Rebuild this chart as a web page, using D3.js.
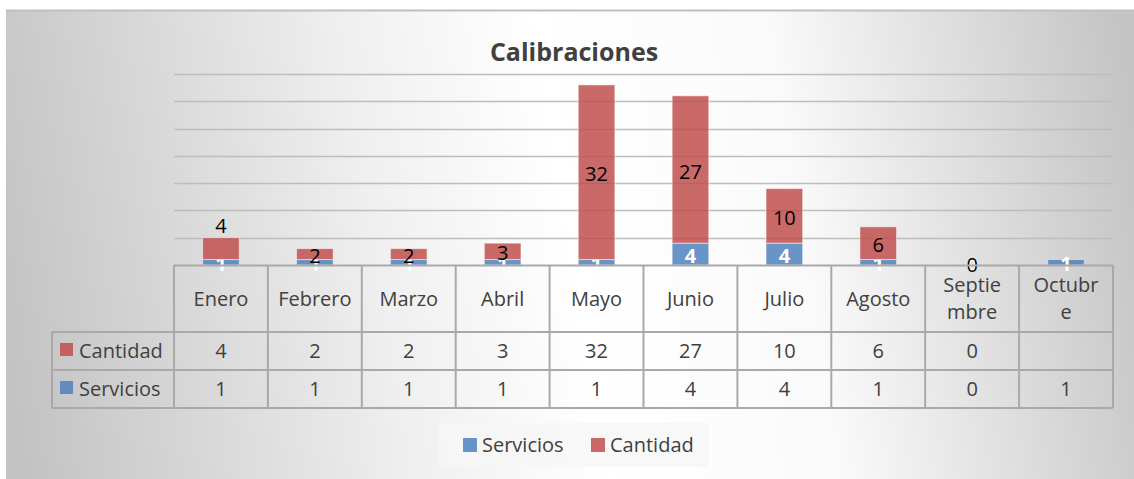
<!DOCTYPE html>
<html>
  <head>
    <meta charset="utf-8">
    <title>Calibraciones</title>
    <script type="text/javascript" src="https://cdn.jsdelivr.net/npm/d3@7"></script>
    <style type="text/css">
      body { margin: 0; background: #ffffff; }
      text { font-family: 'Open Sans', 'Noto Sans', sans-serif; }
    </style>
  </head>
  <body>
    <script type="text/javascript">
      // chart data
      var months = ['Enero', 'Febrero', 'Marzo', 'Abril', 'Mayo', 'Junio', 'Julio', 'Agosto', 'Septiembre', 'Octubre'];
      var monthLabels = [['Enero'], ['Febrero'], ['Marzo'], ['Abril'], ['Mayo'], ['Junio'], ['Julio'], ['Agosto'], ['Septie', 'mbre'], ['Octubr', 'e']];
      var servicios = [1, 1, 1, 1, 1, 4, 4, 1, 0, 1];
      var cantidad = [4, 2, 2, 3, 32, 27, 10, 6, 0, null];
      var seriesNames = ['Servicios', 'Cantidad'];
      var seriesColors = ['#4f81bd', '#c0504d'];
      var yMax = 35;

      var w = 1134;
      var h = 479;
      var plotLeft = 174, plotRight = 1113, plotBase = 265, plotTop = 74;
      var rowTop = 332, rowMid = 370, rowBottom = 408, labelLeft = 52;
      var textColor = '#404040';
      var lineColor = '#a9a9a9';

      var rows = months.map(function(m, i) {
        return {month: m, Servicios: servicios[i], Cantidad: cantidad[i] == null ? 0 : cantidad[i], raw: [servicios[i], cantidad[i]]};
      });

      var svg = d3.select('body')
                  .append('svg')
                  .attr('width', w)
                  .attr('height', h);

      // background gradient
      var grad = svg.append('defs').append('linearGradient')
        .attr('id', 'bg')
        .attr('gradientUnits', 'userSpaceOnUse')
        .attr('x1', 6).attr('y1', 330)
        .attr('x2', 1134).attr('y2', 150);
      [[0, '#c3c3c3'], [0.33, '#efefef'], [0.5, '#ffffff'], [0.7, '#fafafa'], [1, '#c5c5c5']].forEach(function(s) {
        grad.append('stop').attr('offset', s[0]).attr('stop-color', s[1]);
      });

      svg.append('rect')
        .attr('x', 6).attr('y', 10)
        .attr('width', w - 6).attr('height', h - 10)
        .attr('fill', 'url(#bg)');
      svg.append('line')
        .attr('x1', 6).attr('x2', w).attr('y1', 10.5).attr('y2', 10.5)
        .attr('stroke', '#bfbfbf').attr('stroke-width', 2);

      var x = d3.scaleBand().domain(months).range([plotLeft, plotRight]).padding(0);
      var y = d3.scaleLinear().domain([0, yMax]).range([plotBase, plotTop]);
      var barW = x.bandwidth() * 0.39;

      // gridlines
      svg.append('g')
        .selectAll('line')
        .data(y.ticks(7).filter(function(t) { return t > 0; }))
        .enter()
        .append('line')
        .attr('x1', plotLeft).attr('x2', plotRight)
        .attr('y1', function(d) { return Math.round(y(d)) + 0.5; })
        .attr('y2', function(d) { return Math.round(y(d)) + 0.5; })
        .attr('stroke', '#bdbdbd')
        .attr('stroke-width', 1.5);

      // title
      svg.append('text')
        .text('Calibraciones')
        .attr('x', 574).attr('y', 61)
        .attr('text-anchor', 'middle')
        .attr('font-size', '25px')
        .attr('font-weight', 'bold')
        .attr('fill', textColor);

      // stacked bars
      var stacked = d3.stack().keys(seriesNames)(rows);

      var layers = svg.append('g')
        .selectAll('g')
        .data(stacked)
        .enter()
        .append('g')
        .attr('fill', function(d, i) { return seriesColors[i]; });

      layers.selectAll('rect')
        .data(function(d) { return d; })
        .enter()
        .append('rect')
        .attr('x', function(d) { return x(d.data.month) + (x.bandwidth() - barW) / 2; })
        .attr('y', function(d) { return y(d[1]); })
        .attr('width', barW)
        .attr('height', function(d) { return y(d[0]) - y(d[1]); })
        .attr('fill-opacity', 0.85)
        .attr('stroke', '#ffffff')
        .attr('stroke-opacity', 0.5)
        .attr('stroke-width', 1);

      // data labels
      layers.each(function(layer, li) {
        d3.select(this).selectAll('text')
          .data(layer.filter(function(d) { return d.data.raw[li] != null; }))
          .enter()
          .append('text')
          .text(function(d) { return d.data.raw[li]; })
          .attr('x', function(d) { return x(d.data.month) + x.bandwidth() / 2; })
          .attr('y', function(d) {
            if (li == 1 && d.data.month == 'Enero') return y(d[1]) - 12;
            if (d[1] == d[0]) return y(d[0]);
            return (y(d[0]) + y(d[1])) / 2 + 2;
          })
          .attr('dy', '0.35em')
          .attr('text-anchor', 'middle')
          .attr('font-size', '20px')
          .attr('font-weight', li == 0 ? 'bold' : 'normal')
          .attr('fill', li == 0 ? '#ffffff' : '#000000');
      });

      // axis line
      svg.append('line')
        .attr('x1', plotLeft).attr('x2', plotRight)
        .attr('y1', plotBase + 0.5).attr('y2', plotBase + 0.5)
        .attr('stroke', lineColor).attr('stroke-width', 2);

      // data table
      var table = svg.append('g')
        .attr('stroke', lineColor)
        .attr('stroke-width', 2)
        .attr('fill', 'none');

      table.selectAll('line.v')
        .data(months.concat(['end']))
        .enter()
        .append('line')
        .attr('x1', function(d, i) { return i < months.length ? x(d) : plotRight; })
        .attr('x2', function(d, i) { return i < months.length ? x(d) : plotRight; })
        .attr('y1', plotBase)
        .attr('y2', rowBottom);

      [rowTop, rowMid, rowBottom].forEach(function(yy) {
        table.append('line')
          .attr('x1', labelLeft).attr('x2', plotRight)
          .attr('y1', yy).attr('y2', yy);
      });
      table.append('line')
        .attr('x1', labelLeft).attr('x2', labelLeft)
        .attr('y1', rowTop).attr('y2', rowBottom);

      // month headers
      var heads = svg.append('g')
        .selectAll('text')
        .data(monthLabels)
        .enter()
        .append('text')
        .attr('text-anchor', 'middle')
        .attr('font-size', '20px')
        .attr('fill', textColor)
        .attr('x', function(d, i) { return x(months[i]) + x.bandwidth() / 2; })
        .attr('y', function(d) { return d.length > 1 ? 292 : 306; });

      heads.selectAll('tspan')
        .data(function(d) { return d; })
        .enter()
        .append('tspan')
        .attr('x', function() { return d3.select(this.parentNode).attr('x'); })
        .attr('dy', function(d, i) { return i == 0 ? 0 : 27; })
        .text(function(d) { return d; });

      // table rows: Cantidad on top, Servicios below
      var tableRows = [
        {name: 'Cantidad', values: cantidad, color: seriesColors[1], base: 358},
        {name: 'Servicios', values: servicios, color: seriesColors[0], base: 396}
      ];

      tableRows.forEach(function(r) {
        svg.append('rect')
          .attr('x', 60).attr('y', r.base - 15)
          .attr('width', 13).attr('height', 13)
          .attr('fill', r.color)
          .attr('fill-opacity', 0.85);
        svg.append('text')
          .text(r.name)
          .attr('x', 79).attr('y', r.base)
          .attr('font-size', '20px')
          .attr('fill', textColor);
        svg.append('g')
          .selectAll('text')
          .data(r.values)
          .enter()
          .append('text')
          .text(function(d) { return d == null ? '' : d; })
          .attr('x', function(d, i) { return x(months[i]) + x.bandwidth() / 2; })
          .attr('y', r.base)
          .attr('text-anchor', 'middle')
          .attr('font-size', '20px')
          .attr('fill', textColor);
      });

      // legend
      var legend = svg.append('g');
      legend.append('rect')
        .attr('x', 439).attr('y', 423)
        .attr('width', 270).attr('height', 44)
        .attr('fill', '#f6f6f6')
        .attr('fill-opacity', 0.8);

      var legendX = [463, 591];
      seriesNames.forEach(function(s, i) {
        legend.append('rect')
          .attr('x', legendX[i]).attr('y', 438)
          .attr('width', 14).attr('height', 14)
          .attr('fill', seriesColors[i])
          .attr('fill-opacity', 0.85);
        legend.append('text')
          .text(s)
          .attr('x', legendX[i] + 19).attr('y', 452)
          .attr('font-size', '20px')
          .attr('fill', textColor);
      });
    </script>
  </body>
</html>
